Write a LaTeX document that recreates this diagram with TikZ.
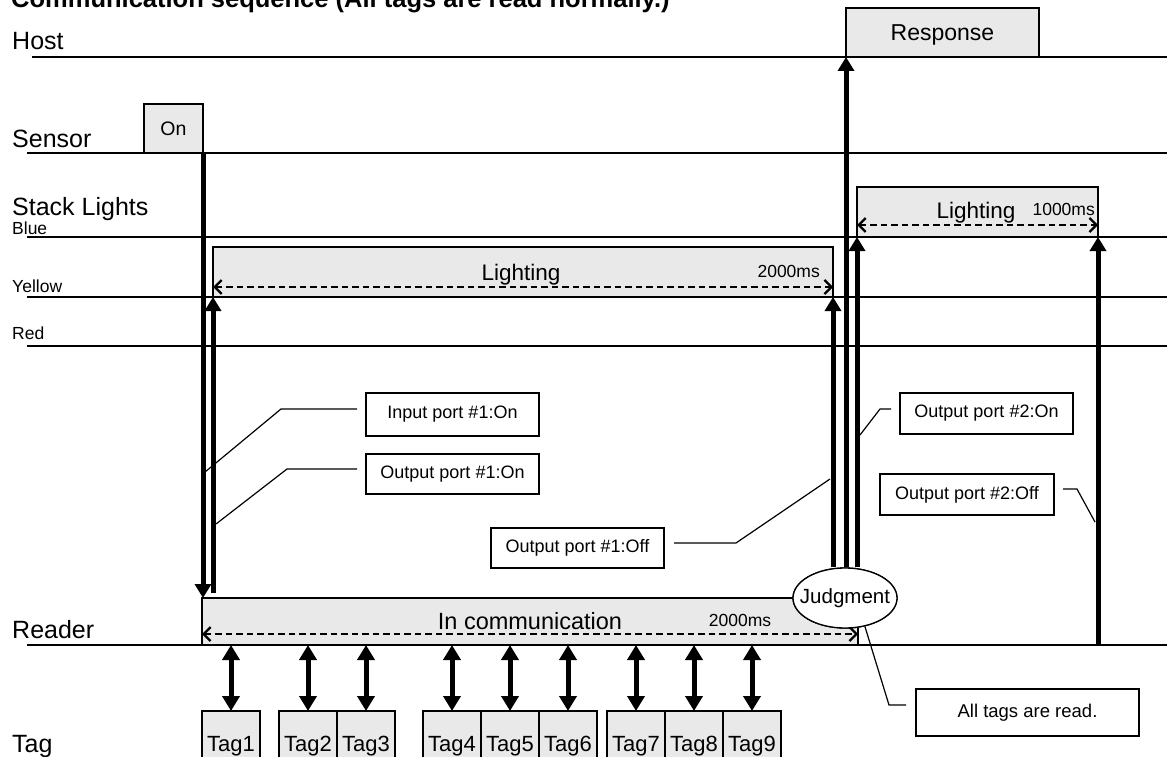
\documentclass[tikz,border=0pt]{standalone}
\usepackage{fontspec}
\setmainfont{Liberation Sans}
\usepackage{tikz}
\usetikzlibrary{arrows.meta, positioning, shapes.geometric}
\definecolor{BarGray}{RGB}{233, 233, 233}
\tikzset{>={Triangle[length=14pt, width=16pt]}}

\begin{document}
\begin{tikzpicture}[x=1pt, y=-1pt,
    lane/.style={line width=1.5pt},
    lanelabel/.style={anchor=base west, inner sep=0pt, font=\fontsize{25}{30}\selectfont},
    colorlabel/.style={anchor=base west, inner sep=0pt, font=\fontsize{17.5}{21}\selectfont},
    bar/.style={draw, fill=BarGray, line width=2.2pt, inner sep=0pt, outer sep=0pt, anchor=north west, text depth=0pt},
    bartext/.style={anchor=base, inner sep=0pt, font=\fontsize{22.5}{27}\selectfont},
    mstext/.style={inner sep=0pt, font=\fontsize{17.5}{21}\selectfont},
    span/.style={line width=2.3pt, dash pattern=on 6.5pt off 4pt,
        {Straight Barb[length=7pt, width=14pt]}-{Straight Barb[length=7pt, width=14pt]}},
    sig/.style={line width=5pt, ->},
    link/.style={line width=5pt, >={Triangle[length=15pt, width=17pt]}, <->},
    note/.style={draw, fill=white, line width=1.3pt, inner sep=0pt, outer sep=0pt, anchor=north west,
        minimum width=173pt, minimum height=41pt, font=\fontsize{18}{22}\selectfont},
    lead/.style={line width=1.2pt},
    tagbox/.style={draw, fill=BarGray, line width=2pt, inner sep=0pt, outer sep=0pt, anchor=north west,
        minimum width=58pt, minimum height=66pt, text depth=0pt, font=\fontsize{22}{26}\selectfont}
]
    \useasboundingbox (0,0) rectangle (1167,757);

    % title, cut at the top edge
    \node[anchor=base west, inner sep=0pt, font=\bfseries\fontsize{25.5}{30}\selectfont] (title) at (11,8)
        {Communication sequence (All tags are read normally.)};

    % lanes
    \foreach \ly/\lx in {57/32, 153/27, 237/27, 297/27, 346/27, 645/27}
        \draw[lane] (\lx,\ly) -- (1167,\ly);

    \node[lanelabel] (hostLbl) at (12,50) {Host};
    \node[lanelabel] (sensorLbl) at (12,147) {Sensor};
    \node[lanelabel] (stackLbl) at (12,215) {Stack Lights};
    \node[colorlabel] (blueLbl) at (12,234) {Blue};
    \node[colorlabel] (yellowLbl) at (12,292) {Yellow};
    \node[colorlabel] (redLbl) at (12,339) {Red};
    \node[lanelabel] (readerLbl) at (12,638) {Reader};
    \node[lanelabel] (tagLbl) at (12,752) {Tag};

    % state bars
    \node[bar, minimum width=59pt, minimum height=49pt, font=\fontsize{19.5}{23}\selectfont] (on) at (144,104) {On};
    \node[bar, minimum width=193pt, minimum height=49pt, font=\fontsize{23}{27}\selectfont] (response) at (846,8) {Response};
    \node[bar, minimum width=241pt, minimum height=50pt] (blue) at (857,187) {};
    \node[bar, minimum width=620pt, minimum height=50pt] (yellow) at (213,247) {};
    \node[bar, minimum width=656pt, minimum height=47pt] (reader) at (202,598) {};

    \node[bartext] (yellowTxt) at (521,280) {Lighting};
    \node[mstext, anchor=base east] (yellowMs) at (820,277) {2000ms};
    \node[bartext] (blueTxt) at (976,218) {Lighting};
    \node[mstext, anchor=base east] (blueMs) at (1095,215) {1000ms};
    \node[bartext, font=\fontsize{23.5}{28}\selectfont] (readerTxt) at (530,629) {In communication};
    \node[mstext, anchor=base] (readerMs) at (740,626) {2000ms};

    \draw[span] ([yshift=10pt]yellow.south west) -- ([yshift=10pt]yellow.south east);
    \draw[span] ([yshift=12pt]blue.south west) -- ([yshift=12pt]blue.south east);
    \draw[span] ([yshift=11pt]reader.south west) -- ([yshift=11pt]reader.south east);

    % signals
    \draw[sig] (on.south east) -- (on.south east |- reader.north);
    \draw[sig, shorten <=5pt] (yellow.south west |- reader.north) -- (yellow.south west);
    \node[ellipse, draw, fill=white, line width=1.3pt, minimum width=104pt, minimum height=60pt, inner sep=0pt] (judge) at (845,598) {};
    \draw[sig] (yellow.south east |- judge.north) -- (yellow.south east);
    \draw[sig] (response.south west |- judge.north) -- (response.south west);
    \draw[sig] (blue.south west |- judge.north) -- (blue.south west);
    \draw[sig] (blue.south east |- reader.south) -- (blue.south east);
    \node[ellipse, draw, fill=white, line width=1.3pt, minimum width=104pt, minimum height=60pt, inner sep=0pt,
        label={[font=\fontsize{20.5}{24}\selectfont]center:Judgment}] at (judge.center) {};

    % tags
    \foreach \i/\tx in {1/202, 2/279, 3/337, 4/423, 5/481, 6/539, 7/607, 8/665, 9/723} {
        \node[tagbox] (tag\i) at (\tx,711) {Tag\i};
        \draw[link] (tag\i.north) -- (tag\i.north |- reader.south);
    }

    % notes
    \node[note, minimum height=43pt] (inOn) at (366,393) {Input port \#1:On};
    \node[note, minimum height=40pt] (outOneOn) at (366,454) {Output port \#1:On};
    \node[note, minimum height=40pt] (outOneOff) at (491,528) {Output port \#1:Off};
    \node[note] (outTwoOn) at (900,393) {Output port \#2:On};
    \node[note, minimum width=174pt] (outTwoOff) at (880,474) {Output port \#2:Off};
    \node[note, minimum width=223pt, minimum height=47pt, font=\fontsize{18.5}{22}\selectfont] (allRead) at (916,689) {All tags are read.};

    \coordinate (kInOn) at (205,472);
    \coordinate (kOutOneOn) at (216,524);
    \coordinate (kOutOneOff) at (830,479);
    \coordinate (kOutTwoOn) at (860,435);
    \coordinate (kOutTwoOff) at (1095,522);

    \draw[lead] ([xshift=-9pt, yshift=5.5pt]inOn.west) -- ++(-76,0) -- (kInOn);
    \draw[lead] ([xshift=-9pt, yshift=5pt]outOneOn.west) -- ++(-70,0) -- (kOutOneOn);
    \draw[lead] ([xshift=10pt, yshift=5pt]outOneOff.east) -- ++(62,0) -- (kOutOneOff);
    \draw[lead] ([xshift=-9pt, yshift=4.5pt]outTwoOn.west) -- ++(-11,0) -- (kOutTwoOn);
    \draw[lead] ([xshift=9pt, yshift=5.5pt]outTwoOff.east) -- ++(14,0) -- (kOutTwoOff);
    \draw[lead] ([xshift=-10pt, yshift=7.5pt]allRead.west) -- ++(-17,0) -- (judge.-55);
\end{tikzpicture}
\end{document}
